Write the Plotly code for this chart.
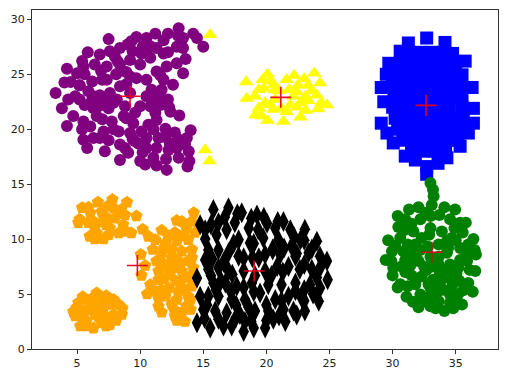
import plotly.graph_objects as go

purple_x = [3.3,3.8,4.2,4.7,4.0,4.2,4.3,4.85,5.4,5.85,7.5,6.8,9.7,10.5,11.2,12.2,13.05,14.2,13.4,15.0,14.5,13.4,13.6,12.9,12.6,12.2,11.45,10.9,10.5,11.85,10.8,10.0,9.0,8.4,7.6,5.6,6.4,7.35,6.2,7.0,5.9,6.8,7.6,8.4,9.2,9.7,8.4,9.2,11.3,11.85,5.6,6.3,7.5,6.55,5.5,7.75,8.7,9.6,10.0,10.8,11.6,12.4,13.1,12.0,12.75,14.0,13.7,13.55,13.85,13.9,13.75,12.1,12.05,13.05,12.25,12.35,11.3,11.45,10.65,11.05,10.1,9.2,8.3,5.4,6.05,7.1,5.5,5.8,6.3,7.2,8.4,9.05,8.4,10.0,10.4,11.05,10.5,9.85,10.5,8.8,9.45,5.5,5.0,7.35,8.15,10.5,11.3,11.7,10.8,11.85,12.9,13.4,12.1,6.7,5.2,10.1,9.2,8.0,6.3,8.9,7.9,6.6,5.2,8.2,9.4,10.9,11.6,10.2,8.9,7.0,7.9,9.6,4.5,6.9,5.2,8.9,8.1,10.2,11.3,12.2,13.0,9.3,7.1,6.2,11.2,12.3,9.4,6.8,7.5,8.8,10.2,12.9,12.0,13.0,11.3]
purple_y = [23.3,21.9,20.3,21.2,24.25,25.5,22.7,23.0,26.2,27.0,28.2,26.8,28.4,28.3,28.7,28.7,29.2,28.7,28.3,27.5,28.3,25.1,26.4,26.0,24.05,22.7,23.0,23.6,24.5,26.9,26.5,25.9,27.7,27.4,27.1,25.0,25.9,25.7,24.35,24.5,23.45,23.1,23.3,23.9,24.8,24.65,25.9,26.3,25.25,24.5,22.2,21.9,21.9,21.2,20.7,20.7,21.2,21.5,22.1,22.1,22.2,21.6,21.25,20.05,19.7,19.9,19.2,18.6,18.0,17.1,16.6,16.3,17.3,17.4,18.1,18.7,18.3,19.2,20.4,20.0,19.8,19.65,19.8,20.0,20.25,19.8,19.05,18.3,19.2,18.0,18.6,17.85,17.2,17.1,16.8,17.4,18.3,18.7,19.2,22.1,20.55,25.7,25.1,24.5,22.7,23.0,20.85,23.6,27.55,28.1,27.5,27.4,25.7,22.1,22.7,26.9,23.3,26.6,23.0,25.2,22.4,22.7,24.0,26.2,27.1,22.8,24.9,27.0,21.0,20.9,20.0,18.9,24.3,25.3,24.0,24.1,25.0,27.5,27.4,27.0,28.5,28.0,22.8,22.7,21.5,22.0,19.1,19.2,19.0,18.3,17.9,18.3,19.3,19.1,16.7]

yellow_x = [18.4,20.1,19.7,18.45,19.4,19.1,20.6,21.6,22.2,22.5,23.3,23.8,24.25,24.0,23.1,22.15,22.7,19.4,19.15,20.1,20.55,21.35,21.6,22.7,23.1,24.1,24.8,24.35,20.7,21.9,19.9,22.4,19.8,20.7,15.54,15.15,15.5,20.3,21.0,21.2,22.4,23.3,23.6,19.6,20.3,21.8,23.0]
yellow_y = [24.3,25.0,24.5,22.8,23.6,23.0,24.05,24.5,24.9,24.0,24.0,25.1,24.2,23.1,23.0,23.0,22.4,21.9,21.3,20.8,21.8,20.7,21.6,21.1,21.7,21.85,22.2,22.4,22.7,22.2,22.4,23.4,23.7,23.6,28.6,18.1,17.1,24.4,23.5,21.9,22.0,22.6,23.5,21.2,22.2,23.6,24.6]

blue_x = [32.7,31.25,34.15,30.6,34.75,35.75,29.7,29.5,29.1,36.3,35.5,29.3,36.4,29.1,36.4,29.55,36.0,30.05,35.35,31.0,34.3,33.6,31.8,32.7,32.7,31.3,32.2,33.1,34.0,30.6,31.5,32.4,33.3,34.2,35.0,30.2,31.1,32.0,33.0,33.9,34.8,30.0,30.9,31.8,32.7,33.6,34.5,35.4,30.1,31.0,31.9,32.8,33.7,34.6,35.5,30.0,30.9,31.8,32.7,33.6,34.5,35.5,30.2,31.1,32.0,32.9,33.8,34.7,35.6,30.4,31.3,32.2,33.1,34.0,34.9,35.7,30.8,31.7,32.6,33.5,34.4,35.2,31.5,32.4,33.3,34.2]
blue_y = [28.3,27.85,27.9,27.1,26.9,26.2,26.0,25.0,23.8,23.8,24.95,22.5,21.9,20.55,20.55,19.65,19.65,18.75,18.45,17.55,17.4,16.9,17.2,16.6,15.9,27,27,27,27,26,26,26,26,26,26,25,25,25,25,25,25,24,24,24,24,24,24,24,23,23,23,23,23,23,23,22,22,22,22,22,22,22,21,21,21,21,21,21,21,20,20,20,20,20,20,20,19,19,19,19,19,19,18,18,18,18]

green_x = [33.0,33.2,33.25,33.1,34.1,34.95,31.3,32.05,30.4,35.8,30.45,31.0,32.2,33.0,34.55,35.35,33.9,35.55,36.4,29.65,30.6,31.65,33.0,32.3,34.7,29.95,30.85,31.8,33.65,35.35,36.5,29.45,36.6,30.05,30.7,32.05,34.55,35.9,36.55,30.0,31.5,32.7,33.75,35.05,30.6,30.4,31.8,32.85,33.75,34.75,36.0,35.6,36.35,31.1,32.2,33.5,34.55,32.05,33.0,34.1,35.5,33.65,34.55,32.45,34.3,33.0,33.65,35.35,31.65,31.0,32.2,33.65,32.6,33.7,34.9,31.5,30.9,32.9,34.3,35.0,36.0,30.2,31.2,32.8,34.4,35.9,29.9,31.0,31.4,32.5,33.2,34.2,35.2,36.1,31.2,32.3,33.2,34.4,35.3,32.9,33.0,34.0,35.2,31.6,33.4,34.8,35.0]
green_y = [15.1,14.5,13.9,13.1,12.9,12.7,12.7,12.9,12.1,11.5,11.1,11.8,11.8,12.1,11.8,11.5,10.7,10.6,10.0,9.9,10.1,10.7,11.0,10.1,10.1,8.9,8.9,9.5,9.5,9.2,9.0,8.1,8.6,7.4,7.5,8.0,7.7,8.0,7.1,6.7,6.7,7.2,6.9,6.9,5.9,5.6,5.9,5.9,6.0,5.9,6.0,5.35,5.2,4.75,4.95,5.1,4.95,3.8,3.9,3.45,4.05,4.35,4.2,4.35,8.75,8.4,8.4,8.1,8.6,8.1,9.0,7.7,12.4,12.2,11.0,11.4,10.8,10.4,9.8,9.9,9.5,9.4,9.5,9.3,9.2,8.7,8.0,7.0,7.6,7.5,7.5,7.2,7.4,7.2,5.7,6.6,6.3,6.5,6.2,4.8,5.6,5.4,5.0,4.3,3.7,3.7,4.6]

orange_x = [5.4,6.65,7.8,8.95,9.7,7.9,6.95,6.05,5.1,5.9,6.95,8.0,8.8,8.65,9.3,8.3,7.1,6.0,6.55,7.6,5.2,6.4,5.45,4.95,4.85,5.25,6.3,7.6,8.55,8.3,7.3,6.55,6.05,6.8,7.6,5.6,6.4,7.2,7.9,5.75,6.95,5.1,10.05,10.4,10.1,10.2,10.65,12.9,14.25,14.1,14.35,13.65,11.7,12.75,11.2,12.0,12.9,13.8,11.0,11.7,12.5,13.3,14.1,11.3,12.1,12.9,13.8,14.2,11.45,12.35,13.3,10.8,10.55,11.45,11.45,12.25,13.0,14.1,13.8,11.45,11.7,12.5,12.75,13.55,13.65,14.2,13.2,14.1,11.7,5.9,7.4,8.5,7.3,6.2,7.5,6.4,8.9,7.3,8.4,5.1,5.6,6.3,7.0,7.9,8.6,8.1,7.3,6.7,5.7,5.4,4.7,6.0,7.0,11.9,12.2,13.4,13.3,12.5,11.7,13.2,12.6,11.9,12.8,13.7,12.0,12.9,13.4,12.7,12.9,14.0,14.0,11.3,10.9,13.3]
orange_y = [12.85,13.35,13.6,13.35,12.1,12.8,12.5,12.4,11.5,11.5,11.6,11.9,12.2,11.3,10.55,10.55,10.0,10.25,10.55,11.0,11.8,11.0,4.75,3.75,3.0,2.1,1.9,2.2,3.15,4.05,4.85,5.1,4.2,3.9,4.05,3.45,3.15,3.0,3.15,2.55,2.4,4.2,8.6,7.6,6.7,10.9,10.25,11.7,12.4,11.6,10.6,11.0,10.8,10.6,9.95,9.65,9.8,9.95,9.05,8.75,9.05,8.9,9.05,8.0,7.5,8.15,8.0,7.4,7.1,6.8,7.1,5.85,5.0,6.3,4.65,5.55,5.25,5.7,4.8,3.9,3.35,4.05,3.0,2.5,3.9,6.8,6.15,8.3,5.4,12.9,13.0,12.7,12.0,11.7,10.4,10.0,10.7,11.3,12.3,3.4,4.5,4.7,4.6,4.5,3.7,2.6,2.1,2.9,2.1,3.0,3.4,3.6,3.4,9.2,10.3,10.3,11.6,8.3,7.9,7.8,7.4,6.4,6.2,6.5,4.8,4.5,5.5,3.6,2.6,4.5,3.6,5.2,5.4,3.3]

black_x = [14.75,14.5,15.8,17.0,18.05,19.25,21.35,23.05,24.0,24.8,24.85,24.25,24.25,24.15,23.05,14.5,15.55,16.6,17.25,18.2,19.0,19.9,21.5,20.55,14.75,15.0,15.15,15.15,16.2,16.2,16.85,17.5,18.6,20.05,20.7,21.9,22.7,22.0,20.95,19.75,17.8,18.7,17.0,15.4,17.8,19.9,21.1,22.3,23.35,23.6,22.65,21.75,20.85,19.9,18.2,17.0,16.2,15.8,16.75,17.65,18.85,20.15,21.2,22.3,23.45,22.8,21.75,20.7,19.5,18.3,17.25,16.2,15.4,15.95,16.85,17.9,19.1,20.15,21.35,22.15,19.35,16.05,15.15,15.4,18.9,19.0,20.5,17.3,18.3,15.6,16.7,17.7,18.8,19.8,20.9,22.2,23.0,23.6,24.3,24.0,23.7,23.0,22.4,21.0,20.0,18.8,17.6,16.2,15.1,15.6,15.7,16.6,17.4,18.2,19.0,19.4,20.5,21.4,22.4,23.0,21.3,20.4,19.1,18.2,16.4,17.2,16.0,15.3,18.6,20.0,21.2,22.3,23.0,17.6]
black_y = [11.3,6.45,12.7,12.85,12.4,12.2,11.6,10.9,9.8,8.0,6.3,8.45,5.55,4.35,3.45,2.4,1.9,2.1,2.1,1.6,1.9,1.9,2.5,2.7,4.8,3.6,10.0,8.1,11.5,9.0,10.85,11.5,11.0,11.45,11.0,10.85,9.95,9.35,9.95,10.1,9.95,9.65,8.75,7.25,8.45,8.6,8.6,8.45,8.75,7.25,7.25,7.5,7.5,7.1,7.1,7.1,7.4,6.0,6.0,5.7,6.0,5.85,5.85,6.0,5.85,4.65,4.8,4.5,5.1,4.5,4.5,4.8,4.8,3.45,3.3,3.15,3.45,3.45,3.6,3.45,10.85,10.4,10.85,9.0,8.3,5.2,9.0,6.8,2.5,11.3,12.0,12.3,11.9,12.0,11.6,10.2,9.9,9.1,7.5,6.5,5.0,4.4,3.1,3.0,2.6,2.5,2.9,2.7,2.8,6.7,8.2,7.9,9.6,8.3,9.6,8.3,9.1,9.2,8.7,7.7,7.0,6.7,6.7,5.6,6.2,5.2,5.4,4.0,3.8,4.0,4.4,5.3,5.4,4.0]

center_x = [9.2,21.14,32.65,33.1,9.78,19.03]
center_y = [23.0,22.9,22.17,8.8,7.6,7.1]

x_ticks = [5,10,15,20,25,30,35]
y_ticks = [0,5,10,15,20,25,30]

fig = go.Figure()
def add(x, y, color, symbol, size):
    fig.add_trace(go.Scatter(x=x, y=y, mode="markers",
                             marker=dict(color=color, symbol=symbol, size=size, line=dict(width=0))))

add(purple_x, purple_y, "purple", "circle", 12)
add(yellow_x, yellow_y, "yellow", "triangle-up", 13)
add(blue_x, blue_y, "blue", "square", 13)
add(green_x, green_y, "green", "circle", 12)
add(orange_x, orange_y, "orange", "pentagon", 13)
add(black_x, black_y, "black", "diamond-tall", 15)
fig.add_trace(go.Scatter(x=center_x, y=center_y, mode="markers",
                         marker=dict(color="rgba(230,0,30,0.95)", symbol="cross-thin", size=15,
                                     line=dict(width=1.6, color="rgba(230,0,30,0.95)"))))

axis = dict(showgrid=False, zeroline=False, mirror=True, showline=True, linecolor="#333333", linewidth=1,
            ticks="outside", ticklen=4, tickwidth=1, tickcolor="#333333", automargin=False)
fig.update_xaxes(range=[1.43, 38.35], tickvals=x_ticks, **axis)
fig.update_yaxes(range=[0, 30.85], tickvals=y_ticks, **axis)
fig.update_layout(width=507, height=377, showlegend=False, plot_bgcolor="white", paper_bgcolor="white",
                  margin=dict(l=32, r=9, t=10, b=28),
                  font=dict(family="DejaVu Sans", size=11, color="#222222"))
fig.write_html("out.html", config=dict(displayModeBar=False),
               post_script="document.body.style.margin='0';document.documentElement.style.overflow='hidden';")
